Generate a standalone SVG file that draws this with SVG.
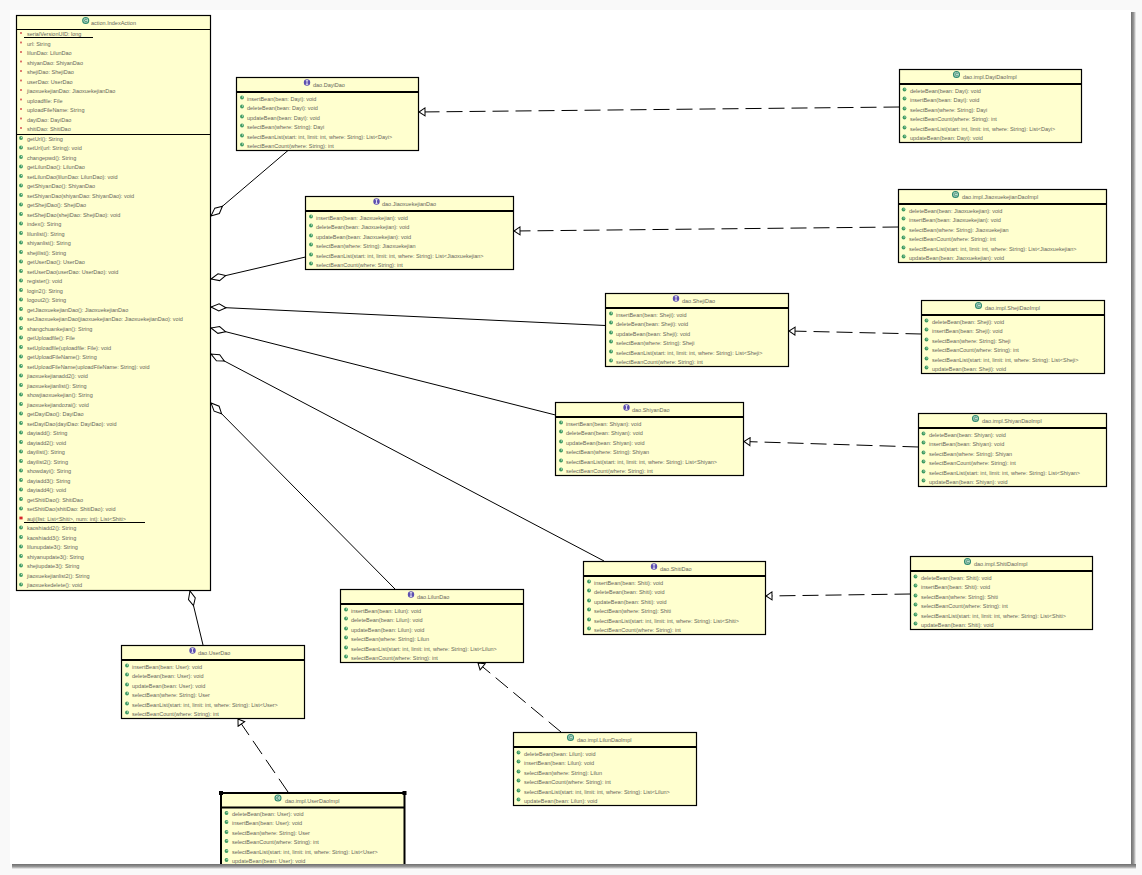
<svg xmlns="http://www.w3.org/2000/svg" xmlns:xlink="http://www.w3.org/1999/xlink" width="1142" height="875" viewBox="0 0 1142 875">
<style>
text{font-family:"Liberation Sans",Arial,sans-serif;font-size:5.5px;fill:#66665a}
.b{fill:#ffffcf;stroke:#000;stroke-width:1.2}
.h{stroke:#000;stroke-width:2;fill:none}
.s{stroke:#000;stroke-width:1;fill:none}
.c{stroke:#000;stroke-width:1;fill:none}
.d{stroke:#000;stroke-width:1;fill:none;stroke-dasharray:16 7}
</style>
<defs>
<marker id="dia" markerUnits="userSpaceOnUse" markerWidth="18" markerHeight="10" refX="16" refY="5" orient="auto"><path d="M1 5L8 1.5L16 5L8 8.5Z" fill="#fff" stroke="#000" stroke-width="1"/></marker>
<marker id="tri" markerUnits="userSpaceOnUse" markerWidth="9" markerHeight="10" refX="8" refY="5" orient="auto"><path d="M2 1L8 5L2 9Z" fill="#fff" stroke="#000" stroke-width="1"/></marker>
<linearGradient id="gr" x1="0" x2="1" y1="0" y2="0"><stop offset="0" stop-color="#6e6e6e"/><stop offset="0.55" stop-color="#999"/><stop offset="1" stop-color="#f4f4f4"/></linearGradient>
<linearGradient id="gb" x1="0" x2="0" y1="0" y2="1"><stop offset="0" stop-color="#6e6e6e"/><stop offset="0.55" stop-color="#999"/><stop offset="1" stop-color="#f4f4f4"/></linearGradient>
<g id="m"><circle r="1.9" fill="#3f9a62"/><circle cx="0.5" cy="-0.5" r="0.7" fill="#bfe6c6"/></g>
<rect id="a" x="-0.9" y="-0.9" width="1.8" height="1.8" fill="#d9605a"/>
<rect id="p" x="-1.6" y="-1.4" width="3.2" height="2.8" fill="#d8262c"/>
<g id="ci"><circle r="3" fill="#b9dccb" stroke="#2f8a70" stroke-width="1.1"/><path d="M1.2 -1A1.4 1.4 0 1 0 1.2 1" fill="none" stroke="#2f7a60" stroke-width="0.8"/></g>
<g id="ii"><circle r="3.2" fill="#5d4fb0"/><path d="M0 -1.8V1.8M-1.2 -1.8H1.2M-1.2 1.8H1.2" stroke="#fff" stroke-width="0.8" fill="none"/></g>
</defs>

<rect width="1142" height="875" fill="#f9f9f9"/>
<rect x="10" y="10" width="1121" height="854" fill="#fff"/>

<g id="connectors">
<path class="c" marker-end="url(#dia)" d="M288 150.5L211 216"/>
<path class="c" marker-end="url(#dia)" d="M305.5 257L211 279"/>
<path class="c" marker-end="url(#dia)" d="M605.5 325.5L211 307"/>
<path class="c" marker-end="url(#dia)" d="M555.5 415L211 328"/>
<path class="c" marker-end="url(#dia)" d="M604 561L211 354"/>
<path class="c" marker-end="url(#dia)" d="M395 589L211 403"/>
<path class="c" marker-end="url(#dia)" d="M203 645L190 591"/>
<path class="d" marker-end="url(#tri)" d="M899.5 107L419 112"/>
<path class="d" marker-end="url(#tri)" d="M898.5 227L514 231"/>
<path class="d" marker-end="url(#tri)" d="M921.5 334L789 331"/>
<path class="d" marker-end="url(#tri)" d="M918.5 447L744 441.5"/>
<path class="d" marker-end="url(#tri)" d="M910.5 594L766 596"/>
<path class="d" marker-end="url(#tri)" d="M561 732L478 663"/>
<path class="d" marker-end="url(#tri)" d="M288 792L238 719"/>
</g>

<g id="IndexAction">
<rect class="b" x="16.5" y="15.5" width="194" height="575"/>
<path class="s" d="M16.5 29.5H210.5M16.5 134.5H210.5"/>
<use href="#ci" x="85.7" y="20.5"/><text x="91" y="25">action.IndexAction</text>
<path class="s" d="M24 37.5H93M24 522.5H145"/>
<use href="#a" x="21" y="33"/><text x="27" y="36">serialVersionUID: long</text>
<use href="#a" x="21" y="42.5"/><text x="27" y="45.5">url: String</text>
<use href="#a" x="21" y="52"/><text x="27" y="55">lilunDao: LilunDao</text>
<use href="#a" x="21" y="61.5"/><text x="27" y="64.5">shiyanDao: ShiyanDao</text>
<use href="#a" x="21" y="71"/><text x="27" y="74">shejiDao: ShejiDao</text>
<use href="#a" x="21" y="80.5"/><text x="27" y="83.5">userDao: UserDao</text>
<use href="#a" x="21" y="90"/><text x="27" y="93">jiaoxuekejianDao: JiaoxuekejianDao</text>
<use href="#a" x="21" y="99.5"/><text x="27" y="102.5">uploadfile: File</text>
<use href="#a" x="21" y="109"/><text x="27" y="112">uploadFileName: String</text>
<use href="#a" x="21" y="118.5"/><text x="27" y="121.5">dayiDao: DayiDao</text>
<use href="#a" x="21" y="128"/><text x="27" y="131">shitiDao: ShitiDao</text>
<use href="#m" x="21" y="138"/><text x="27" y="140.5">getUrl(): String</text>
<use href="#m" x="21" y="147.5"/><text x="27" y="150">setUrl(url: String): void</text>
<use href="#m" x="21" y="157"/><text x="27" y="159.5">changepwd(): String</text>
<use href="#m" x="21" y="166.5"/><text x="27" y="169">getLilunDao(): LilunDao</text>
<use href="#m" x="21" y="176"/><text x="27" y="178.5">setLilunDao(lilunDao: LilunDao): void</text>
<use href="#m" x="21" y="185.5"/><text x="27" y="188">getShiyanDao(): ShiyanDao</text>
<use href="#m" x="21" y="195"/><text x="27" y="197.5">setShiyanDao(shiyanDao: ShiyanDao): void</text>
<use href="#m" x="21" y="204.5"/><text x="27" y="207">getShejiDao(): ShejiDao</text>
<use href="#m" x="21" y="214"/><text x="27" y="216.5">setShejiDao(shejiDao: ShejiDao): void</text>
<use href="#m" x="21" y="223.5"/><text x="27" y="226">index(): String</text>
<use href="#m" x="21" y="233"/><text x="27" y="235.5">lilunlist(): String</text>
<use href="#m" x="21" y="242.5"/><text x="27" y="245">shiyanlist(): String</text>
<use href="#m" x="21" y="252"/><text x="27" y="254.5">shejilist(): String</text>
<use href="#m" x="21" y="261.5"/><text x="27" y="264">getUserDao(): UserDao</text>
<use href="#m" x="21" y="271"/><text x="27" y="273.5">setUserDao(userDao: UserDao): void</text>
<use href="#m" x="21" y="280.5"/><text x="27" y="283">register(): void</text>
<use href="#m" x="21" y="290"/><text x="27" y="292.5">login2(): String</text>
<use href="#m" x="21" y="299.5"/><text x="27" y="302">logout2(): String</text>
<use href="#m" x="21" y="309"/><text x="27" y="311.5">getJiaoxuekejianDao(): JiaoxuekejianDao</text>
<use href="#m" x="21" y="318.5"/><text x="27" y="321">setJiaoxuekejianDao(jiaoxuekejianDao: JiaoxuekejianDao): void</text>
<use href="#m" x="21" y="328"/><text x="27" y="330.5">shangchuankejian(): String</text>
<use href="#m" x="21" y="337.5"/><text x="27" y="340">getUploadfile(): File</text>
<use href="#m" x="21" y="347"/><text x="27" y="349.5">setUploadfile(uploadfile: File): void</text>
<use href="#m" x="21" y="356.5"/><text x="27" y="359">getUploadFileName(): String</text>
<use href="#m" x="21" y="366"/><text x="27" y="368.5">setUploadFileName(uploadFileName: String): void</text>
<use href="#m" x="21" y="375.5"/><text x="27" y="378">jiaoxuekejianadd2(): void</text>
<use href="#m" x="21" y="385"/><text x="27" y="387.5">jiaoxuekejianlist(): String</text>
<use href="#m" x="21" y="394.5"/><text x="27" y="397">showjiaoxuekejian(): String</text>
<use href="#m" x="21" y="404"/><text x="27" y="406.5">jiaoxuekejiandozai(): void</text>
<use href="#m" x="21" y="413.5"/><text x="27" y="416">getDayiDao(): DayiDao</text>
<use href="#m" x="21" y="423"/><text x="27" y="425.5">setDayiDao(dayiDao: DayiDao): void</text>
<use href="#m" x="21" y="432.5"/><text x="27" y="435">dayiadd(): String</text>
<use href="#m" x="21" y="442"/><text x="27" y="444.5">dayiadd2(): void</text>
<use href="#m" x="21" y="451.5"/><text x="27" y="454">dayilist(): String</text>
<use href="#m" x="21" y="461"/><text x="27" y="463.5">dayilist2(): String</text>
<use href="#m" x="21" y="470.5"/><text x="27" y="473">showdayi(): String</text>
<use href="#m" x="21" y="480"/><text x="27" y="482.5">dayiadd3(): String</text>
<use href="#m" x="21" y="489.5"/><text x="27" y="492">dayiadd4(): void</text>
<use href="#m" x="21" y="499"/><text x="27" y="501.5">getShitiDao(): ShitiDao</text>
<use href="#m" x="21" y="508.5"/><text x="27" y="511">setShitiDao(shitiDao: ShitiDao): void</text>
<use href="#p" x="21" y="518"/><text x="27" y="520.5">auji(list: List&lt;Shiti&gt;, num: int): List&lt;Shiti&gt;</text>
<use href="#m" x="21" y="527.5"/><text x="27" y="530">kaoshiadd2(): String</text>
<use href="#m" x="21" y="537"/><text x="27" y="539.5">kaoshiadd3(): String</text>
<use href="#m" x="21" y="546.5"/><text x="27" y="549">lilunupdate3(): String</text>
<use href="#m" x="21" y="556"/><text x="27" y="558.5">shiyanupdate3(): String</text>
<use href="#m" x="21" y="565.5"/><text x="27" y="568">shejiupdate3(): String</text>
<use href="#m" x="21" y="575"/><text x="27" y="577.5">jiaoxuekejianlist2(): String</text>
<use href="#m" x="21" y="584.5"/><text x="27" y="587">jiaoxuekedelete(): void</text>
</g>

<g id="DayiDao" transform="translate(236.5 77.5)">
<rect class="b" width="182" height="73"/><path class="h" d="M0 14.5H182"/>
<use href="#ii" x="70.5" y="5"/><text x="76.5" y="9.5">dao.DayiDao</text>
<use href="#m" x="5.5" y="20"/><text x="10.5" y="23">insertBean(bean: Dayi): void</text>
<use href="#m" x="5.5" y="29"/><text x="10.5" y="32">deleteBean(bean: Dayi): void</text>
<use href="#m" x="5.5" y="39"/><text x="10.5" y="42">updateBean(bean: Dayi): void</text>
<use href="#m" x="5.5" y="48"/><text x="10.5" y="51">selectBean(where: String): Dayi</text>
<use href="#m" x="5.5" y="58"/><text x="10.5" y="61">selectBeanList(start: int, limit: int, where: String): List&lt;Dayi&gt;</text>
<use href="#m" x="5.5" y="67"/><text x="10.5" y="70">selectBeanCount(where: String): int</text>
</g>

<g id="JiaoxuekejianDao" transform="translate(305.5 196.5)">
<rect class="b" width="208" height="73"/><path class="h" d="M0 14.5H208"/>
<use href="#ii" x="71" y="5"/><text x="76.5" y="9.5">dao.JiaoxuekejianDao</text>
<use href="#m" x="5.5" y="20"/><text x="10.5" y="23">insertBean(bean: Jiaoxuekejian): void</text>
<use href="#m" x="5.5" y="29"/><text x="10.5" y="32">deleteBean(bean: Jiaoxuekejian): void</text>
<use href="#m" x="5.5" y="39"/><text x="10.5" y="42">updateBean(bean: Jiaoxuekejian): void</text>
<use href="#m" x="5.5" y="48"/><text x="10.5" y="51">selectBean(where: String): Jiaoxuekejian</text>
<use href="#m" x="5.5" y="58"/><text x="10.5" y="61">selectBeanList(start: int, limit: int, where: String): List&lt;Jiaoxuekejian&gt;</text>
<use href="#m" x="5.5" y="67"/><text x="10.5" y="70">selectBeanCount(where: String): int</text>
</g>

<g id="ShejiDao" transform="translate(605.5 293.5)">
<rect class="b" width="183" height="73"/><path class="h" d="M0 14.5H183"/>
<use href="#ii" x="70.5" y="5"/><text x="76.5" y="9.5">dao.ShejiDao</text>
<use href="#m" x="5.5" y="20"/><text x="10.5" y="23">insertBean(bean: Sheji): void</text>
<use href="#m" x="5.5" y="29"/><text x="10.5" y="32">deleteBean(bean: Sheji): void</text>
<use href="#m" x="5.5" y="39"/><text x="10.5" y="42">updateBean(bean: Sheji): void</text>
<use href="#m" x="5.5" y="48"/><text x="10.5" y="51">selectBean(where: String): Sheji</text>
<use href="#m" x="5.5" y="58"/><text x="10.5" y="61">selectBeanList(start: int, limit: int, where: String): List&lt;Sheji&gt;</text>
<use href="#m" x="5.5" y="67"/><text x="10.5" y="70">selectBeanCount(where: String): int</text>
</g>

<g id="ShiyanDao" transform="translate(555.5 402.5)">
<rect class="b" width="188" height="73"/><path class="h" d="M0 14.5H188"/>
<use href="#ii" x="71" y="5"/><text x="76.5" y="9.5">dao.ShiyanDao</text>
<use href="#m" x="5.5" y="20"/><text x="10.5" y="23">insertBean(bean: Shiyan): void</text>
<use href="#m" x="5.5" y="29"/><text x="10.5" y="32">deleteBean(bean: Shiyan): void</text>
<use href="#m" x="5.5" y="39"/><text x="10.5" y="42">updateBean(bean: Shiyan): void</text>
<use href="#m" x="5.5" y="48"/><text x="10.5" y="51">selectBean(where: String): Shiyan</text>
<use href="#m" x="5.5" y="58"/><text x="10.5" y="61">selectBeanList(start: int, limit: int, where: String): List&lt;Shiyan&gt;</text>
<use href="#m" x="5.5" y="67"/><text x="10.5" y="70">selectBeanCount(where: String): int</text>
</g>

<g id="ShitiDao" transform="translate(583.5 561.5)">
<rect class="b" width="182" height="73"/><path class="h" d="M0 14.5H182"/>
<use href="#ii" x="70.5" y="5"/><text x="76.5" y="9.5">dao.ShitiDao</text>
<use href="#m" x="5.5" y="20"/><text x="10.5" y="23">insertBean(bean: Shiti): void</text>
<use href="#m" x="5.5" y="29"/><text x="10.5" y="32">deleteBean(bean: Shiti): void</text>
<use href="#m" x="5.5" y="39"/><text x="10.5" y="42">updateBean(bean: Shiti): void</text>
<use href="#m" x="5.5" y="48"/><text x="10.5" y="51">selectBean(where: String): Shiti</text>
<use href="#m" x="5.5" y="58"/><text x="10.5" y="61">selectBeanList(start: int, limit: int, where: String): List&lt;Shiti&gt;</text>
<use href="#m" x="5.5" y="67"/><text x="10.5" y="70">selectBeanCount(where: String): int</text>
</g>

<g id="LilunDao" transform="translate(340.5 589.5)">
<rect class="b" width="183" height="73"/><path class="h" d="M0 14.5H183"/>
<use href="#ii" x="70.5" y="5"/><text x="76.5" y="9.5">dao.LilunDao</text>
<use href="#m" x="5.5" y="20"/><text x="10.5" y="23">insertBean(bean: Lilun): void</text>
<use href="#m" x="5.5" y="29"/><text x="10.5" y="32">deleteBean(bean: Lilun): void</text>
<use href="#m" x="5.5" y="39"/><text x="10.5" y="42">updateBean(bean: Lilun): void</text>
<use href="#m" x="5.5" y="48"/><text x="10.5" y="51">selectBean(where: String): Lilun</text>
<use href="#m" x="5.5" y="58"/><text x="10.5" y="61">selectBeanList(start: int, limit: int, where: String): List&lt;Lilun&gt;</text>
<use href="#m" x="5.5" y="67"/><text x="10.5" y="70">selectBeanCount(where: String): int</text>
</g>

<g id="UserDao" transform="translate(121.5 645.5)">
<rect class="b" width="183" height="73"/><path class="h" d="M0 14.5H183"/>
<use href="#ii" x="71" y="5"/><text x="76.5" y="9.5">dao.UserDao</text>
<use href="#m" x="5.5" y="20"/><text x="10.5" y="23">insertBean(bean: User): void</text>
<use href="#m" x="5.5" y="29"/><text x="10.5" y="32">deleteBean(bean: User): void</text>
<use href="#m" x="5.5" y="39"/><text x="10.5" y="42">updateBean(bean: User): void</text>
<use href="#m" x="5.5" y="48"/><text x="10.5" y="51">selectBean(where: String): User</text>
<use href="#m" x="5.5" y="58"/><text x="10.5" y="61">selectBeanList(start: int, limit: int, where: String): List&lt;User&gt;</text>
<use href="#m" x="5.5" y="67"/><text x="10.5" y="70">selectBeanCount(where: String): int</text>
</g>

<g id="DayiDaoImpl" transform="translate(899.5 69.5)">
<rect class="b" width="182" height="73"/><path class="h" d="M0 14.5H182"/>
<use href="#ci" x="57" y="5"/><text x="63.5" y="9.5">dao.impl.DayiDaoImpl</text>
<use href="#m" x="5" y="20"/><text x="10.5" y="23">deleteBean(bean: Dayi): void</text>
<use href="#m" x="5" y="29"/><text x="10.5" y="32">insertBean(bean: Dayi): void</text>
<use href="#m" x="5" y="39"/><text x="10.5" y="42">selectBean(where: String): Dayi</text>
<use href="#m" x="5" y="48"/><text x="10.5" y="51">selectBeanCount(where: String): int</text>
<use href="#m" x="5" y="58"/><text x="10.5" y="61">selectBeanList(start: int, limit: int, where: String): List&lt;Dayi&gt;</text>
<use href="#m" x="5" y="67"/><text x="10.5" y="70">updateBean(bean: Dayi): void</text>
</g>

<g id="JiaoxuekejianDaoImpl" transform="translate(898.5 189.5)">
<rect class="b" width="208" height="73"/><path class="h" d="M0 14.5H208"/>
<use href="#ci" x="57" y="5"/><text x="63.5" y="9.5">dao.impl.JiaoxuekejianDaoImpl</text>
<use href="#m" x="5" y="20"/><text x="10.5" y="23">deleteBean(bean: Jiaoxuekejian): void</text>
<use href="#m" x="5" y="29"/><text x="10.5" y="32">insertBean(bean: Jiaoxuekejian): void</text>
<use href="#m" x="5" y="39"/><text x="10.5" y="42">selectBean(where: String): Jiaoxuekejian</text>
<use href="#m" x="5" y="48"/><text x="10.5" y="51">selectBeanCount(where: String): int</text>
<use href="#m" x="5" y="58"/><text x="10.5" y="61">selectBeanList(start: int, limit: int, where: String): List&lt;Jiaoxuekejian&gt;</text>
<use href="#m" x="5" y="67"/><text x="10.5" y="70">updateBean(bean: Jiaoxuekejian): void</text>
</g>

<g id="ShejiDaoImpl" transform="translate(921.5 300.5)">
<rect class="b" width="183" height="73"/><path class="h" d="M0 14.5H183"/>
<use href="#ci" x="57" y="5"/><text x="63.5" y="9.5">dao.impl.ShejiDaoImpl</text>
<use href="#m" x="5" y="20"/><text x="10.5" y="23">deleteBean(bean: Sheji): void</text>
<use href="#m" x="5" y="29"/><text x="10.5" y="32">insertBean(bean: Sheji): void</text>
<use href="#m" x="5" y="39"/><text x="10.5" y="42">selectBean(where: String): Sheji</text>
<use href="#m" x="5" y="48"/><text x="10.5" y="51">selectBeanCount(where: String): int</text>
<use href="#m" x="5" y="58"/><text x="10.5" y="61">selectBeanList(start: int, limit: int, where: String): List&lt;Sheji&gt;</text>
<use href="#m" x="5" y="67"/><text x="10.5" y="70">updateBean(bean: Sheji): void</text>
</g>

<g id="ShiyanDaoImpl" transform="translate(918.5 413.5)">
<rect class="b" width="188" height="73"/><path class="h" d="M0 14.5H188"/>
<use href="#ci" x="57" y="5"/><text x="63.5" y="9.5">dao.impl.ShiyanDaoImpl</text>
<use href="#m" x="5" y="20"/><text x="10.5" y="23">deleteBean(bean: Shiyan): void</text>
<use href="#m" x="5" y="29"/><text x="10.5" y="32">insertBean(bean: Shiyan): void</text>
<use href="#m" x="5" y="39"/><text x="10.5" y="42">selectBean(where: String): Shiyan</text>
<use href="#m" x="5" y="48"/><text x="10.5" y="51">selectBeanCount(where: String): int</text>
<use href="#m" x="5" y="58"/><text x="10.5" y="61">selectBeanList(start: int, limit: int, where: String): List&lt;Shiyan&gt;</text>
<use href="#m" x="5" y="67"/><text x="10.5" y="70">updateBean(bean: Shiyan): void</text>
</g>

<g id="ShitiDaoImpl" transform="translate(910.5 556.5)">
<rect class="b" width="182" height="73"/><path class="h" d="M0 14.5H182"/>
<use href="#ci" x="57" y="5"/><text x="63.5" y="9.5">dao.impl.ShitiDaoImpl</text>
<use href="#m" x="5" y="20"/><text x="10.5" y="23">deleteBean(bean: Shiti): void</text>
<use href="#m" x="5" y="29"/><text x="10.5" y="32">insertBean(bean: Shiti): void</text>
<use href="#m" x="5" y="39"/><text x="10.5" y="42">selectBean(where: String): Shiti</text>
<use href="#m" x="5" y="48"/><text x="10.5" y="51">selectBeanCount(where: String): int</text>
<use href="#m" x="5" y="58"/><text x="10.5" y="61">selectBeanList(start: int, limit: int, where: String): List&lt;Shiti&gt;</text>
<use href="#m" x="5" y="67"/><text x="10.5" y="70">updateBean(bean: Shiti): void</text>
</g>

<g id="LilunDaoImpl" transform="translate(513.5 732.5)">
<rect class="b" width="183" height="73"/><path class="h" d="M0 14.5H183"/>
<use href="#ci" x="57" y="5"/><text x="63.5" y="9.5">dao.impl.LilunDaoImpl</text>
<use href="#m" x="5" y="20"/><text x="10.5" y="23">deleteBean(bean: Lilun): void</text>
<use href="#m" x="5" y="29"/><text x="10.5" y="32">insertBean(bean: Lilun): void</text>
<use href="#m" x="5" y="39"/><text x="10.5" y="42">selectBean(where: String): Lilun</text>
<use href="#m" x="5" y="48"/><text x="10.5" y="51">selectBeanCount(where: String): int</text>
<use href="#m" x="5" y="58"/><text x="10.5" y="61">selectBeanList(start: int, limit: int, where: String): List&lt;Lilun&gt;</text>
<use href="#m" x="5" y="67"/><text x="10.5" y="70">updateBean(bean: Lilun): void</text>
</g>

<g id="UserDaoImpl" transform="translate(221 793)">
<rect width="183.5" height="80" fill="#ffffcf" stroke="#000" stroke-width="2"/><path class="h" d="M0 14.5H183.5"/>
<rect x="-2" y="-2" width="4" height="4" fill="#000"/><rect x="181.5" y="-2" width="4" height="4" fill="#000"/>
<use href="#ci" x="57" y="5"/><text x="64" y="9.5">dao.impl.UserDaoImpl</text>
<use href="#m" x="5.5" y="20"/><text x="11" y="23">deleteBean(bean: User): void</text>
<use href="#m" x="5.5" y="29"/><text x="11" y="32">insertBean(bean: User): void</text>
<use href="#m" x="5.5" y="39"/><text x="11" y="42">selectBean(where: String): User</text>
<use href="#m" x="5.5" y="48"/><text x="11" y="51">selectBeanCount(where: String): int</text>
<use href="#m" x="5.5" y="58"/><text x="11" y="61">selectBeanList(start: int, limit: int, where: String): List&lt;User&gt;</text>
<use href="#m" x="5.5" y="67"/><text x="11" y="70">updateBean(bean: User): void</text>
</g>

<rect x="0" y="864" width="1142" height="11" fill="#f9f9f9"/>
<rect x="1131" y="12" width="5" height="856" fill="url(#gr)"/>
<rect x="12" y="864" width="1124" height="5" fill="url(#gb)"/>
</svg>
